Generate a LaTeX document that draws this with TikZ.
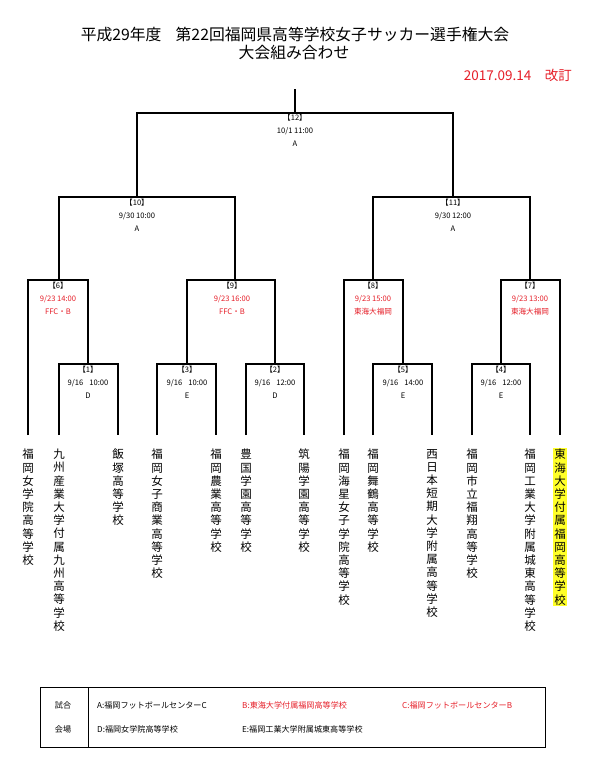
\documentclass[tikz,border=0pt]{standalone}
\usepackage{fontspec}
\setmainfont{Noto Sans CJK JP}
\definecolor{rd}{RGB}{230,30,40}
\definecolor{hl}{RGB}{255,255,40}
\begin{document}
\begin{tikzpicture}[x=1pt,y=-1pt,
  br/.style={line width=2pt, line join=miter},
  team/.style={anchor=north, align=center, inner sep=0pt, font=\fontsize{11.5}{13.2}\selectfont},
  lab/.style={anchor=north, align=center, inner sep=0pt, font=\fontsize{7.6}{13}\selectfont},
  ttl/.style={inner sep=0pt, font=\fontsize{15.8}{18}\selectfont},
  leg/.style={anchor=west, inner sep=0pt, font=\fontsize{8.1}{10}\selectfont}
]
\useasboundingbox (0,0) rectangle (598,777);
\fill[white] (0,0) rectangle (598,777);

% title
\node[ttl] (title1) at (295,35) {平成29年度\hspace{0.9em}第22回福岡県高等学校女子サッカー選手権大会};
\node[ttl] (title2) at (294,53) {大会組み合わせ};
\node[ttl, anchor=east, text=rd, font=\fontsize{13.5}{15}\selectfont] (date) at (572,75) {2017.09.14\hspace{1em}改訂};

% team bottoms
\coordinate (a1) at (28,435);
\coordinate (a2) at (59,435);
\coordinate (a3) at (118,435);
\coordinate (a4) at (157,435);
\coordinate (a5) at (216,435);
\coordinate (a6) at (246,435);
\coordinate (a7) at (304,435);
\coordinate (a8) at (344,435);
\coordinate (a9) at (373,435);
\coordinate (a10) at (432,435);
\coordinate (a11) at (472,435);
\coordinate (a12) at (530,435);
\coordinate (a13) at (560,435);

% matches
\coordinate (m1) at (88,364);
\coordinate (m3) at (187,364);
\coordinate (m2) at (275,364);
\coordinate (m5) at (403,364);
\coordinate (m4) at (501,364);
\coordinate (m6) at (59,280);
\coordinate (m9) at (235,280);
\coordinate (m8) at (373,280);
\coordinate (m7) at (530,280);
\coordinate (m10) at (137,197);
\coordinate (m11) at (453,197);
\coordinate (m12) at (295,113);
\coordinate (top) at (295,89);

\draw[br] (a2) |- (m1) -| (a3);
\draw[br] (a4) |- (m3) -| (a5);
\draw[br] (a6) |- (m2) -| (a7);
\draw[br] (a9) |- (m5) -| (a10);
\draw[br] (a11) |- (m4) -| (a12);
\draw[br] (a1) |- (m6) -| (m1);
\draw[br] (m3) |- (m9) -| (m2);
\draw[br] (a8) |- (m8) -| (m5);
\draw[br] (m4) |- (m7) -| (a13);
\draw[br] (m6) |- (m10) -| (m9);
\draw[br] (m8) |- (m11) -| (m7);
\draw[br] (m10) |- (m12) -| (m11);
\draw[br] (m12) -- (top);

% match labels
\node[lab] (l12) at (295,113.5) {【12】\\10/1 11:00\\A};
\node[lab] (l10) at (137,198.5) {【10】\\9/30 10:00\\A};
\node[lab] (l11) at (453,198.5) {【11】\\9/30 12:00\\A};
\node[lab] (l6) at (58,281.5) {【6】\\\textcolor{rd}{9/23 14:00}\\\textcolor{rd}{FFC・B}};
\node[lab] (l9) at (232,281.5) {【9】\\\textcolor{rd}{9/23 16:00}\\\textcolor{rd}{FFC・B}};
\node[lab] (l8) at (373,281.5) {【8】\\\textcolor{rd}{9/23 15:00}\\\textcolor{rd}{東海大福岡}};
\node[lab] (l7) at (530,281.5) {【7】\\\textcolor{rd}{9/23 13:00}\\\textcolor{rd}{東海大福岡}};
\node[lab] (l1) at (88,365.5) {【1】\\9/16\hspace{6pt}10:00\\D};
\node[lab] (l3) at (187,365.5) {【3】\\9/16\hspace{6pt}10:00\\E};
\node[lab] (l2) at (275,365.5) {【2】\\9/16\hspace{6pt}12:00\\D};
\node[lab] (l5) at (403,365.5) {【5】\\9/16\hspace{6pt}14:00\\E};
\node[lab] (l4) at (501,365.5) {【4】\\9/16\hspace{6pt}12:00\\E};

% teams
\node[team] (t1) at (28,449) {福\\岡\\女\\学\\院\\高\\等\\学\\校};
\node[team] (t2) at (59,449) {九\\州\\産\\業\\大\\学\\付\\属\\九\\州\\高\\等\\学\\校};
\node[team] (t3) at (118,449) {飯\\塚\\高\\等\\学\\校};
\node[team] (t4) at (157,449) {福\\岡\\女\\子\\商\\業\\高\\等\\学\\校};
\node[team] (t5) at (216,449) {福\\岡\\農\\業\\高\\等\\学\\校};
\node[team] (t6) at (246,449) {豊\\国\\学\\園\\高\\等\\学\\校};
\node[team] (t7) at (304,449) {筑\\陽\\学\\園\\高\\等\\学\\校};
\node[team] (t8) at (344,449) {福\\岡\\海\\星\\女\\子\\学\\院\\高\\等\\学\\校};
\node[team] (t9) at (373,449) {福\\岡\\舞\\鶴\\高\\等\\学\\校};
\node[team] (t10) at (432,449) {西\\日\\本\\短\\期\\大\\学\\附\\属\\高\\等\\学\\校};
\node[team] (t11) at (472,449) {福\\岡\\市\\立\\福\\翔\\高\\等\\学\\校};
\node[team] (t12) at (530,449) {福\\岡\\工\\業\\大\\学\\附\\属\\城\\東\\高\\等\\学\\校};
\node[team, fill=hl, inner xsep=1.5pt, inner ysep=1pt] (t13) at (560,448) {東\\海\\大\\学\\付\\属\\福\\岡\\高\\等\\学\\校};

% legend
\draw[line width=1pt] (40,687) rectangle (545,747);
\coordinate (dtop) at (88,687);
\coordinate (dbot) at (88,747);
\draw[line width=1pt] (dtop) -- (dbot);
\node[inner sep=0pt, font=\fontsize{8.1}{10}\selectfont] (k1) at (63,705) {試合};
\node[inner sep=0pt, font=\fontsize{8.1}{10}\selectfont] (k2) at (63,729) {会場};
\node[leg] (va) at (97,705) {A:福岡フットボールセンターC};
\node[leg, text=rd] (vb) at (242,705) {B:東海大学付属福岡高等学校};
\node[leg, text=rd] (vc) at (402,705) {C:福岡フットボールセンターB};
\node[leg] (vd) at (97,729) {D:福岡女学院高等学校};
\node[leg] (ve) at (242,729) {E:福岡工業大学附属城東高等学校};
\end{tikzpicture}
\end{document}
